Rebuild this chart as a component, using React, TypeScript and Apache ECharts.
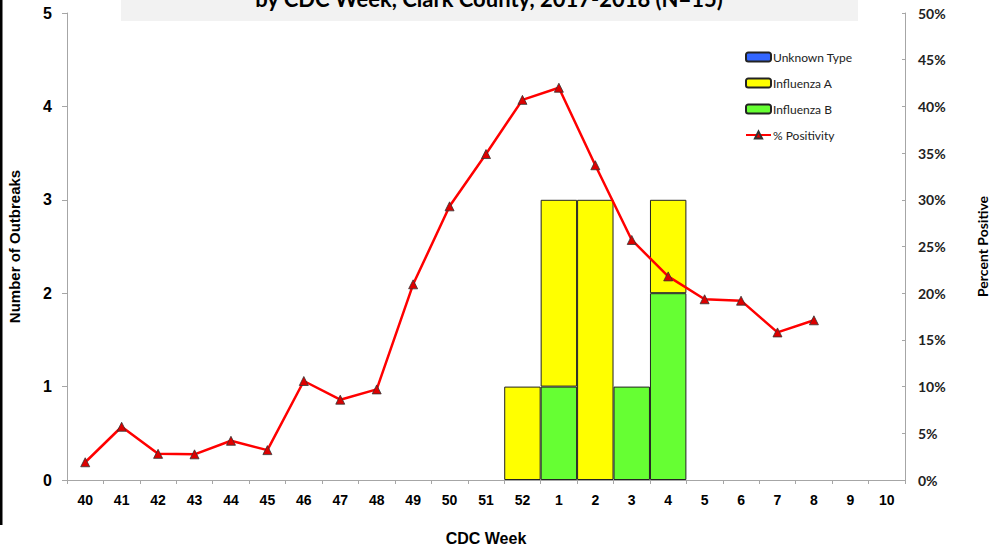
import React, { useEffect, useRef } from "react";
import * as echarts from "echarts";

const categories = ["40", "41", "42", "43", "44", "45", "46", "47", "48", "49", "50", "51", "52", "1", "2", "3", "4", "5", "6", "7", "8", "9", "10"];
const unknownType: (number | null)[] = [null, null, null, null, null, null, null, null, null, null, null, null, null, null, null, null, null, null, null, null, null, null, null];
const influenzaA: (number | null)[] = [null, null, null, null, null, null, null, null, null, null, null, null, 1, 2, 3, null, 1, null, null, null, null, null, null];
const influenzaB: (number | null)[] = [null, null, null, null, null, null, null, null, null, null, null, null, null, 1, null, 1, 2, null, null, null, null, null, null];
const positivity: (number | null)[] = [1.9, 5.7, 2.8, 2.75, 4.2, 3.2, 10.6, 8.6, 9.7, 20.95, 29.3, 34.9, 40.7, 42.0, 33.7, 25.7, 21.8, 19.35, 19.2, 15.8, 17.1, null, null];
const leftTicks = [0, 1, 2, 3, 4, 5];
const rightTicks = [0, 5, 10, 15, 20, 25, 30, 35, 40, 45, 50];
const titleText = "by CDC Week, Clark County, 2017-2018 (N=15)";

export default function App() {
  const ref = useRef<HTMLDivElement>(null);
  useEffect(() => {
    if (!ref.current) return;
    const chart = echarts.init(ref.current, null, { renderer: "svg" });
    const arial = "'Liberation Sans', Arial, sans-serif";
    const calibri = "Lato, 'Open Sans', sans-serif";
    const axisGray = "#a6a6a6";
    chart.setOption({
      animation: false,
      backgroundColor: "#ffffff",
      grid: { left: 67, right: 87, top: 13, bottom: 66, containLabel: false, outerBoundsMode: "none" },
      graphic: [
        { type: "rect", shape: { x: 0, y: 0, width: 2.5, height: 525 }, style: { fill: "#000000" } },
        { type: "rect", shape: { x: 121, y: 0, width: 737, height: 21 }, style: { fill: "#f2f2f2" } },
        {
          type: "text",
          x: 489,
          y: 9,
          style: {
            text: titleText,
            fill: "#000000",
            font: "bold 22px " + calibri,
            textAlign: "center",
            textVerticalAlign: "bottom",
          },
        },
      ],
      legend: {
        orient: "vertical",
        left: 740,
        top: 46,
        itemGap: 14,
        itemWidth: 25,
        itemHeight: 9,
        data: [
          { name: "Unknown Type" },
          { name: "Influenza A" },
          { name: "Influenza B" },
          { name: "% Positivity" },
        ],
        textStyle: { fontFamily: calibri, fontSize: 12, color: "#222222", padding: [0, 0, 0, -3] },
      },
      xAxis: {
        type: "category",
        data: categories,
        boundaryGap: true,
        name: "CDC Week",
        nameLocation: "middle",
        nameGap: 50,
        nameTextStyle: { fontFamily: arial, fontWeight: "bold", fontSize: 16, color: "#000000" },
        axisLine: { lineStyle: { color: axisGray, width: 1 } },
        axisTick: { show: true, length: 4, lineStyle: { color: axisGray } },
        axisLabel: { fontFamily: arial, fontWeight: "bold", fontSize: 14, color: "#000000", margin: 13, interval: 0 },
      },
      yAxis: [
        {
          type: "value",
          min: 0,
          max: 5,
          interval: 1,
          name: "Number of Outbreaks",
          nameLocation: "middle",
          nameGap: 45,
          nameRotate: 90,
          nameTextStyle: { fontFamily: arial, fontWeight: "bold", fontSize: 15, color: "#000000" },
          axisLine: { show: true, lineStyle: { color: axisGray } },
          axisTick: { show: true, length: 5, lineStyle: { color: axisGray } },
          splitLine: { show: false },
          axisLabel: { fontFamily: arial, fontWeight: "bold", fontSize: 16, color: "#000000", margin: 15, formatter: (v: number) => (leftTicks.includes(v) ? String(v) : "") },
        },
        {
          type: "value",
          min: 0,
          max: 50,
          interval: 5,
          position: "right",
          name: "Percent Positive",
          nameLocation: "middle",
          nameGap: 70,
          nameRotate: 90,
          nameTextStyle: { fontFamily: calibri, fontWeight: "bold", fontSize: 14, color: "#000000" },
          axisLine: { show: true, lineStyle: { color: axisGray } },
          axisTick: { show: true, inside: true, length: 3, lineStyle: { color: axisGray } },
          splitLine: { show: false },
          axisLabel: { fontFamily: calibri, fontWeight: "bold", fontSize: 14, color: "#222222", margin: 13, formatter: (v: number) => (rightTicks.includes(v) ? v + "%" : "") },
        },
      ],
      series: [
        {
          name: "Influenza B",
          type: "bar",
          stack: "flu",
          data: influenzaB,
          barCategoryGap: "0%",
          itemStyle: { color: "#66ff33", borderColor: "#222222", borderWidth: 1 },
        },
        {
          name: "Influenza A",
          type: "bar",
          stack: "flu",
          data: influenzaA,
          barCategoryGap: "0%",
          itemStyle: { color: "#ffff00", borderColor: "#222222", borderWidth: 1 },
        },
        {
          name: "Unknown Type",
          type: "bar",
          stack: "flu",
          data: unknownType,
          barCategoryGap: "0%",
          itemStyle: { color: "#3366ff", borderColor: "#222222", borderWidth: 1 },
        },
        {
          name: "% Positivity",
          type: "line",
          yAxisIndex: 1,
          data: positivity,
          lineStyle: { color: "#ff0000", width: 2.5 },
          itemStyle: { color: "#dd0000", borderColor: "#333333", borderWidth: 0.8 },
          symbol: "triangle",
          symbolSize: 9,
          showSymbol: true,
          z: 5,
        },
      ],
    });
    return () => chart.dispose();
  }, []);
  return <div ref={ref} style={{ position: "absolute", left: 0, top: 0, width: 992, height: 546 }} />;
}
